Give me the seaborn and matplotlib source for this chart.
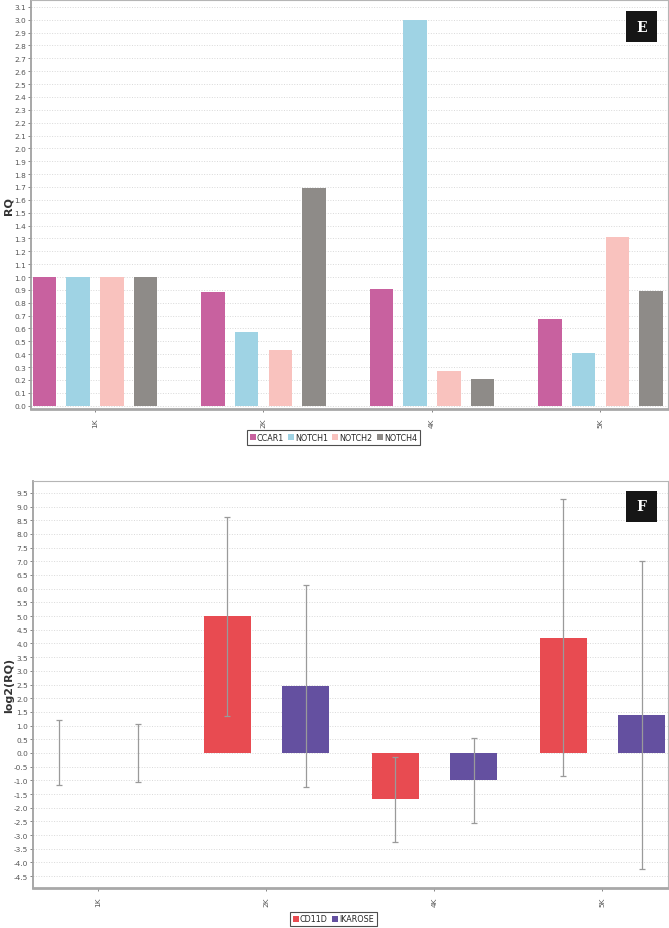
import numpy as np
import pandas as pd
import matplotlib
matplotlib.use("Agg")
import matplotlib.pyplot as plt
from matplotlib.patches import Rectangle
from matplotlib.lines import Line2D
import seaborn as sns

samples = ["1K", "2K", "4K", "5K"]

# panel E: RQ values
rq_genes = ["CCAR1", "NOTCH1", "NOTCH2", "NOTCH4"]
ccar1 = [1.0, 0.88, 0.91, 0.67]
notch1 = [1.0, 0.57, 3.0, 0.41]
notch2 = [1.0, 0.43, 0.27, 1.31]
notch4 = [1.0, 1.69, 0.21, 0.89]
rq_colors = ["#c8619f", "#9fd3e4", "#f9c2be", "#8e8b88"]

# panel F: log2(RQ) with min/max range
log_genes = ["CD11D", "IKAROSE"]
cd11d = [0.0, 5.0, -1.68, 4.2]
cd11d_low = [-1.18, 1.36, -3.24, -0.85]
cd11d_high = [1.2, 8.63, -0.16, 9.27]
ikarose = [0.0, 2.45, -1.0, 1.38]
ikarose_low = [-1.06, -1.25, -2.54, -4.23]
ikarose_high = [1.06, 6.14, 0.55, 7.02]
log_colors = ["#e84b51", "#6450a0"]

df_e = pd.DataFrame({
    "sample": samples * 4,
    "gene": np.repeat(rq_genes, 4),
    "rq": ccar1 + notch1 + notch2 + notch4,
})
df_f = pd.DataFrame({
    "sample": samples * 2,
    "gene": np.repeat(log_genes, 4),
    "log2rq": cd11d + ikarose,
    "low": cd11d_low + ikarose_low,
    "high": cd11d_high + ikarose_high,
})

sns.set_theme(style="white")
plt.rcParams["font.family"] = ["DejaVu Sans"]

fig = plt.figure(figsize=(6.69, 9.29), dpi=100)
ax1 = fig.add_axes([0.0463, 0.5587, 0.952, 0.440])
ax2 = fig.add_axes([0.0493, 0.0431, 0.9492, 0.438])

grid_kw = dict(color="#d9d9d9", linestyle=":", linewidth=0.7)
tick_col = "#555555"

# ---- panel E
sns.barplot(data=df_e, x="sample", y="rq", hue="gene", order=samples,
            hue_order=rq_genes, palette=rq_colors, gap=0.3, width=0.8,
            errorbar=None, legend=False, linewidth=0, saturation=1, ax=ax1)
ax1.set_xlim(-0.38, 3.4)
ax1.set_ylim(-0.026, 3.152)
ax1.set_yticks(np.round(np.arange(0, 3.15, 0.1), 1))
ax1.set_ylabel("RQ", fontsize=8, fontweight="bold", color="#333333")
ax1.yaxis.set_label_coords(-0.027, 0.5)

# ---- panel F
sns.barplot(data=df_f, x="sample", y="log2rq", hue="gene", order=samples,
            hue_order=log_genes, palette=log_colors, gap=0.4, width=0.93,
            errorbar=None, legend=False, linewidth=0, saturation=1, ax=ax2)
for cont, gene in zip(ax2.containers, log_genes):
    sub = df_f[df_f["gene"] == gene].set_index("sample").loc[samples]
    xs = sorted(p.get_x() + p.get_width() / 2 for p in cont.patches)
    vals = sub["log2rq"].values
    yerr = [vals - sub["low"].values, sub["high"].values - vals]
    ax2.errorbar(xs, vals, yerr=yerr, fmt="none", ecolor="#9a9a9a",
                 elinewidth=0.9, capsize=2.5, capthick=0.9, zorder=5)
ax2.set_xlim(-0.39, 3.39)
ax2.set_ylim(-4.93, 9.93)
ax2.set_yticks(np.arange(-4.5, 9.6, 0.5))
ax2.set_ylabel("log2(RQ)", fontsize=8, fontweight="bold", color="#333333")
ax2.yaxis.set_label_coords(-0.03, 0.5)

for ax in (ax1, ax2):
    ax.set_xlabel("")
    ax.yaxis.grid(True, **grid_kw)
    ax.set_axisbelow(True)
    ax.tick_params(axis="y", labelsize=5.3, colors=tick_col, length=2,
                   width=0.5, pad=1.5, left=True)
    ax.tick_params(axis="x", labelsize=5.3, colors=tick_col, length=2,
                   width=0.5, pad=4, rotation=90, bottom=True)
    ax.yaxis.set_major_formatter(matplotlib.ticker.FormatStrFormatter("%.1f"))
    for side in ("top", "right"):
        ax.spines[side].set_color("#b5b5b5")
        ax.spines[side].set_linewidth(0.8)
    ax.spines["left"].set_color("#a0a0a0")
    ax.spines["left"].set_linewidth(1.3)
    ax.spines["bottom"].set_color("#a8a8a8")
    ax.spines["bottom"].set_linewidth(2.0)

# legends
def square_handles(colors):
    return [Line2D([], [], marker="s", linestyle="none", markersize=5,
                   markerfacecolor=c, markeredgewidth=0) for c in colors]

leg_kw = dict(loc="center", ncol=4, fontsize=5.8, frameon=True, fancybox=False,
              handletextpad=0.1, columnspacing=0.5, borderpad=0.35,
              handlelength=0.8, edgecolor="#222222")
l1 = fig.legend(square_handles(rq_colors), rq_genes,
                bbox_to_anchor=(0.498, 0.528), **leg_kw)
l2 = fig.legend(square_handles(log_colors), log_genes,
                bbox_to_anchor=(0.498, 0.0097), **leg_kw)
for lg in (l1, l2):
    lg.get_frame().set_linewidth(0.8)

# panel letters
for letter, ytop in (("E", 12), ("F", 492)):
    fig.patches.append(Rectangle((626 / 669, 1 - (ytop + 31) / 929), 31 / 669, 31 / 929,
                                 transform=fig.transFigure, facecolor="#161616",
                                 edgecolor="none"))
    fig.text(641.5 / 669, 1 - (ytop + 15.5) / 929, letter, color="white",
             fontsize=10, fontweight="bold", family="DejaVu Serif",
             ha="center", va="center")

fig.savefig("out.png", dpi=100)
